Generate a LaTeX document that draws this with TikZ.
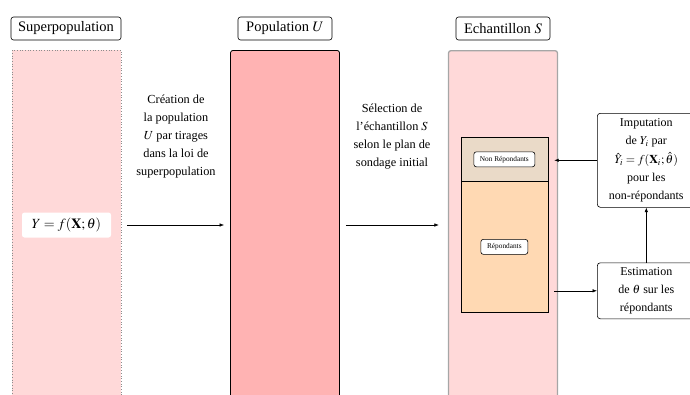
\documentclass[tikz,border=0pt]{standalone}
\usepackage{mathptmx}
\usepackage[no-math]{fontspec}
\setmainfont{Liberation Serif}
\usetikzlibrary{arrows.meta,calc}
\definecolor{lightpink}{RGB}{255,217,217}
\definecolor{poppink}{RGB}{255,179,179}
\definecolor{tanzone}{RGB}{234,218,200}
\definecolor{peach}{RGB}{255,217,179}
\tikzset{
  x=1pt, y=-1pt,
  lab/.style={draw=black, rounded corners=2.5pt, fill=white, line width=0.6pt, inner sep=0pt,
    minimum height=23pt, font=\fontsize{14.5}{17}\selectfont},
  colbox/.style={anchor=north, minimum width=109pt, minimum height=360pt, inner sep=0pt, rounded corners=2.5pt},
  note/.style={align=center, inner sep=0pt, font=\fontsize{12.3}{18}\selectfont},
  tag/.style={draw=black, fill=white, rounded corners=2.5pt, line width=0.6pt, inner sep=0pt,
    minimum height=15pt, font=\fontsize{7.3}{9}\selectfont},
  sidebox/.style={draw=black, fill=white, rounded corners=3pt, line width=0.6pt, anchor=north west,
    minimum width=98pt, inner sep=0pt, align=center},
  arr/.style={-{Latex[length=4.5pt,width=3.5pt]}, line width=0.6pt},
}
\begin{document}
\begin{tikzpicture}
\useasboundingbox (0,0) rectangle (690,394);
% columns
\node[colbox, fill=lightpink, draw=black!45, dotted, line width=0.7pt, rounded corners=0pt] (super) at (66.5,50) {};
\node[colbox, fill=poppink, draw=black, line width=0.8pt] (pop) at (285,50) {};
\node[colbox, fill=lightpink, draw=black!35, line width=1.3pt] (ech) at (503,50) {};
% labels
\node[lab, minimum width=110pt] (slab) at (66,28.5) {Superpopulation};
\node[lab, minimum width=94pt] (plab) at (285,28.5) {Population $U$};
\node[lab, minimum width=94pt] (elab) at (503,28.5) {Echantillon $S$};
% formula
\node[fill=white, rounded corners=2.5pt, minimum width=89pt, minimum height=25pt, inner sep=0pt,
  font=\fontsize{14}{16}\selectfont] (formula) at (66.5,225) {$Y=f(\mathbf{X};\theta)$};
% notes
\node[note] (n1) at (176,137) {Création de\\ la population\\ $U$ par tirages\\ dans la loi de\\ superpopulation};
\node[note] (n2) at (392,137) {Sélection de\\ l'échantillon $S$\\ selon le plan de\\ sondage initial};
% inner zones
\node[draw=black, fill=tanzone, line width=0.7pt, anchor=north west, minimum width=87pt, minimum height=44pt, inner sep=0pt] (nrzone) at (460.5,137) {};
\node[draw=black, fill=peach, line width=0.7pt, anchor=north west, minimum width=87pt, minimum height=131pt, inner sep=0pt] (repzone) at (460.5,181) {};
\node[tag, minimum width=61pt] (nr) at (nrzone.center) {Non Répondants};
\node[tag, minimum width=47pt] (rep) at (repzone.center) {Répondants};
% side boxes
\node[sidebox, minimum height=94pt, font=\fontsize{12}{18}\selectfont] (imput) at (597,113) {Imputation\\ de $Y_i$ par\\[1.5pt] $\hat{Y}_i=f(\mathbf{X}_i;\hat{\theta})$\\ pour les\\ non-répondants};
\node[sidebox, minimum height=56pt, font=\fontsize{12}{18}\selectfont] (estim) at (597,262.5) {Estimation\\ de $\theta$ sur les\\ répondants};
% arrows
\draw[arr] ([xshift=6pt]super.east |- formula.center) -- ([xshift=-6pt]pop.west |- formula.center);
\draw[arr] ([xshift=6pt]pop.east |- formula.center) -- ([xshift=-9pt]ech.west |- formula.center);
\draw[arr] (imput.west) -- ([xshift=6pt]nrzone.east |- imput.west);
\draw[arr] ([xshift=6pt]repzone.east |- estim.west) -- (estim.west);
\draw[arr] (estim.north) -- (imput.south);
\end{tikzpicture}
\end{document}
